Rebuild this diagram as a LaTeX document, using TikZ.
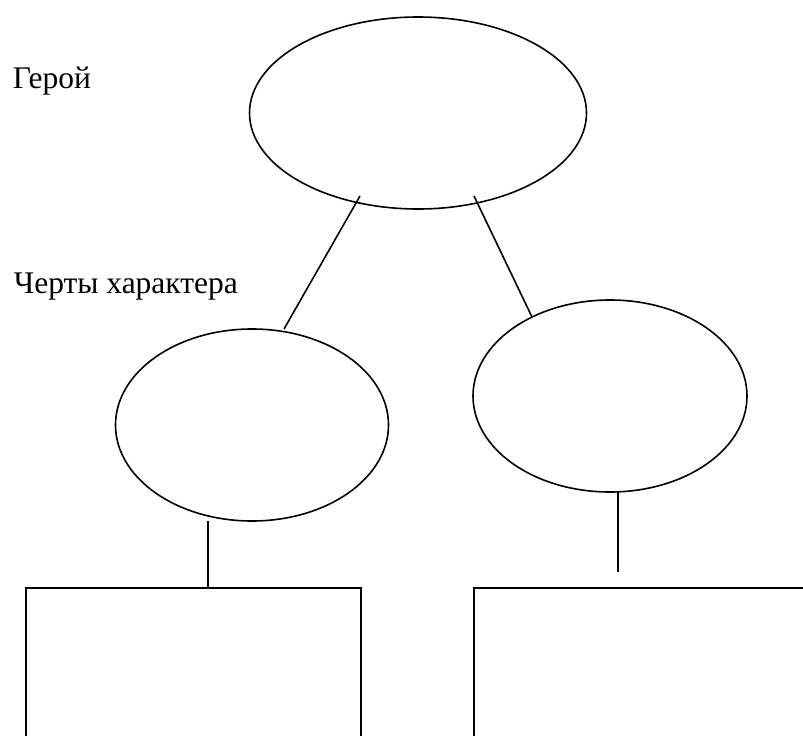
\documentclass[tikz,border=0pt]{standalone}
\usepackage{fontspec}
\setmainfont{Liberation Serif}
\usetikzlibrary{shapes.geometric}

\begin{document}
\begin{tikzpicture}[x=1pt,y=-1pt,line width=1.6pt,
 oval/.style={draw,ellipse,inner sep=0pt,minimum height=192pt},
 card/.style={draw,rectangle,anchor=north west,inner sep=0pt,minimum height=220pt},
 caption/.style={anchor=base west,inner sep=0pt,font=\fontsize{31.5}{38}\selectfont}]
 \useasboundingbox (0,0) rectangle (803,736);
 \clip (0,0) rectangle (803,736);
 % labels
 \node[caption] (herolabel) at (12,88) {Герой};
 \node[caption] (traitlabel) at (13,293) {Черты характера};
 % ovals
 \node[oval,minimum width=337pt] (hero) at (418,113) {};
 \node[oval,minimum width=273pt] (traitA) at (252,425) {};
 \node[oval,minimum width=274pt] (traitB) at (610,396) {};
 % boxes
 \node[card,minimum width=335pt] (boxA) at (25,587) {};
 \node[card,minimum width=400pt] (boxB) at (473,587) {};
 % connectors
 \coordinate (heroA) at (360,196);
 \coordinate (topA) at (284,329);
 \coordinate (heroB) at (474,196);
 \coordinate (topB) at (532,317);
 \coordinate (footA) at (208,521);
 \coordinate (footB) at (618,492);
 \coordinate (endB) at (618,572);
 \draw (heroA) -- (topA);
 \draw (heroB) -- (topB);
 \draw (footA) -- (footA |- boxA.north);
 \draw (footB) -- (endB);
\end{tikzpicture}
\end{document}
